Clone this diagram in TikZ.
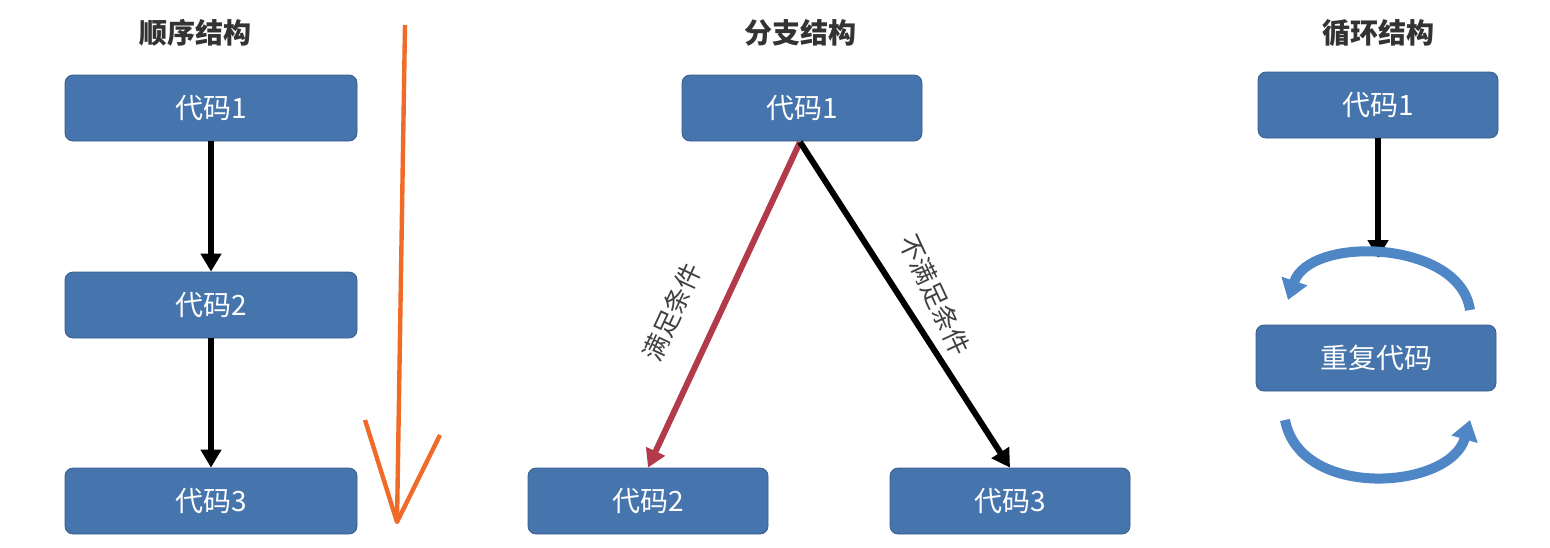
\documentclass[tikz,border=0pt]{standalone}
\usepackage{fontspec}
\setmainfont{Liberation Sans}
\newfontfamily\cjk{Noto Sans CJK SC}
\usetikzlibrary{arrows.meta}
\definecolor{boxblue}{HTML}{4674AC}
\definecolor{arcblue}{HTML}{4F86C6}
\definecolor{branchred}{HTML}{B23A4A}
\definecolor{orng}{HTML}{F06A28}
\begin{document}
\begin{tikzpicture}[x=0.5pt,y=-0.5pt,
  box/.style={draw=boxblue!80!black,fill=boxblue,rounded corners=4pt,text=white,font=\cjk\fontsize{14}{16}\selectfont,minimum width=120pt,minimum height=33pt,inner sep=0pt},
  ttl/.style={font=\cjk\bfseries\fontsize{14}{16}\selectfont,text=black!80},
  arr/.style={line width=3pt,-{Triangle[length=9pt,width=10pt]}},
  arc/.style={line width=5pt,arcblue,-{Triangle[length=10pt,width=13pt]}}]
\useasboundingbox (0,0) rectangle (1550,547);
% titles
\node[ttl] (t1) at (195,33) {顺序结构};
\node[ttl] (t2) at (800,33) {分支结构};
\node[ttl] (t3) at (1378,33) {循环结构};
% sequence
\node[box,minimum width=146pt] (s1) at (211,108) {代码1};
\node[box,minimum width=146pt] (s2) at (211,305) {代码2};
\node[box,minimum width=146pt] (s3) at (211,501) {代码3};
\draw[arr] (s1) -- (s2);
\draw[arr] (s2) -- (s3);
% orange arrow
\coordinate (o1) at (405,25);
\coordinate (o2) at (397,522);
\coordinate (o3) at (365,420);
\coordinate (o4) at (440,435);
\draw[orng,line width=2.2pt] (o1) -- (o2);
\draw[orng,line width=2.2pt,line join=round] (o3) -- (o2) -- (o4);
% branch
\node[box] (b1) at (802,108) {代码1};
\node[box] (b2) at (648,501) {代码2};
\node[box] (b3) at (1010,501) {代码3};
\coordinate (bs) at (800,142);
\draw[arr,branchred] (bs) -- (b2.north);
\draw[arr] (bs) -- (b3.north);
\node[font=\cjk\fontsize{13}{15}\selectfont,text=black!75,rotate=65] (l1) at (672,312) {满足条件};
\node[font=\cjk\fontsize{13}{15}\selectfont,text=black!75,rotate=-65,align=center] (l2) at (935,295) {不满足条件};
% loop
\node[box] (c1) at (1378,105) {代码1};
\node[box] (c2) at (1376,358) {重复代码};
\coordinate (ct) at (1378,258);
\draw[arr] (c1) -- (ct);
\coordinate (a1) at (1470,310);
\coordinate (a2) at (1288,300);
\draw[arc] (a1) .. controls (1460,240) and (1310,235) .. (a2);
\coordinate (a3) at (1285,420);
\coordinate (a4) at (1470,420);
\draw[arc] (a3) .. controls (1300,500) and (1450,490) .. (a4);
\end{tikzpicture}
\end{document}
